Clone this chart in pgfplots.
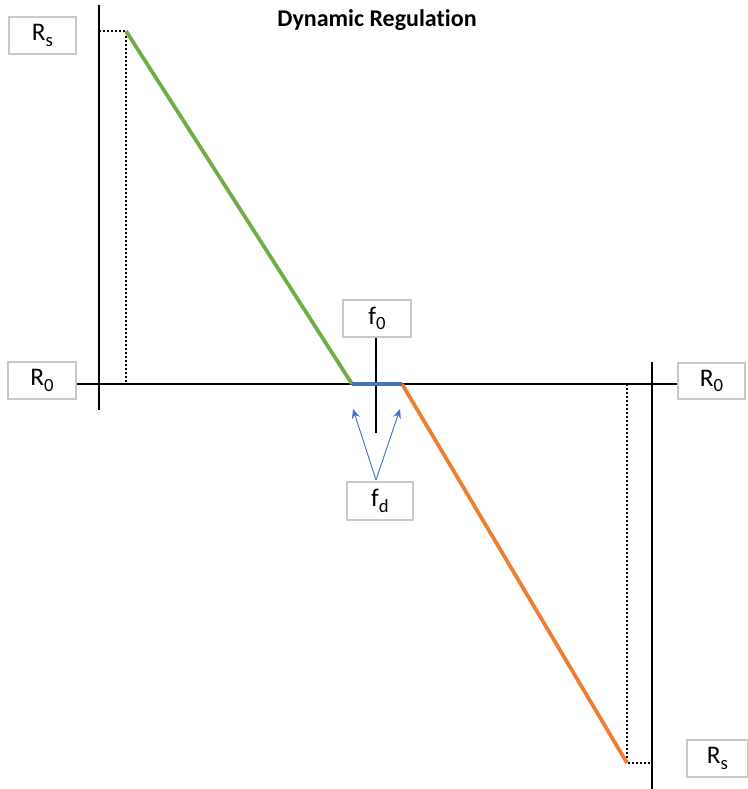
\documentclass[border=0pt]{standalone}
\usepackage{pgfplots}
\pgfplotsset{compat=1.18}
\usepackage{fontspec}
\setmainfont[Ligatures=NoCommon]{Carlito}
\usetikzlibrary{arrows.meta}
\definecolor{cgreen}{HTML}{70AD47}
\definecolor{corange}{HTML}{ED7D31}
\definecolor{cblue}{HTML}{4472C4}
\definecolor{cbox}{RGB}{200,200,200}
\newcommand{\lbl}[2]{#1\raisebox{-0.45ex}{\fontsize{14}{16}\selectfont #2}}
\begin{document}
\begin{tikzpicture}
\begin{axis}[
  scale only axis, width=561pt, height=591.75pt,
  xmin=0, xmax=748, ymin=0, ymax=789,
  hide axis, clip=false,
]
% axes of the diagram
\addplot[black, line width=1.9pt] coordinates {(99,784) (99,379)};
\addplot[black, line width=1.9pt] coordinates {(75,405) (678,405)};
\addplot[black, line width=1.9pt] coordinates {(652,427) (652,0)};
\addplot[black, line width=1.9pt] coordinates {(376,451) (376,356)};
% dotted guides
\addplot[black, line width=1.0pt, dash pattern=on 1.2pt off 1.8pt] coordinates {(99,758) (126,758) (126,405)};
\addplot[black, line width=1.0pt, dash pattern=on 1.2pt off 1.8pt] coordinates {(627,405) (627,26) (652,26)};
% regulation curve
\addplot[cgreen, line width=2.8pt] coordinates {(126,758) (352,405)};
\addplot[corange, line width=2.8pt] coordinates {(402,405) (627,26)};
\addplot[cblue, line width=2.8pt] coordinates {(352,405) (402,405)};
% arrows
\addplot[cblue, line width=0.7pt, -{Stealth[length=7pt,width=6pt]}] coordinates {(376,309) (353,380)};
\addplot[cblue, line width=0.7pt, -{Stealth[length=7pt,width=6pt]}] coordinates {(376,309) (400,380)};
% boxes
\draw[cbox, line width=0.8pt, fill=white] (axis cs:9,772) rectangle (axis cs:76,735);
\draw[cbox, line width=0.8pt, fill=white] (axis cs:8,427) rectangle (axis cs:76,390);
\draw[cbox, line width=0.8pt, fill=white] (axis cs:343,489) rectangle (axis cs:411,452);
\draw[cbox, line width=0.8pt, fill=white] (axis cs:347,307) rectangle (axis cs:413,269);
\draw[cbox, line width=0.8pt, fill=white] (axis cs:678,426) rectangle (axis cs:745,390);
\draw[cbox, line width=0.8pt, fill=white] (axis cs:687,49) rectangle (axis cs:747.5,12);
\node[font=\fontsize{19}{22}\selectfont] at (axis cs:42.5,753.5) {\lbl{R}{s}};
\node[font=\fontsize{19}{22}\selectfont] at (axis cs:42,408.5) {\lbl{R}{0}};
\node[font=\fontsize{19}{22}\selectfont] at (axis cs:377,470.5) {\lbl{f}{0}};
\node[font=\fontsize{19}{22}\selectfont] at (axis cs:380,288) {\lbl{f}{d}};
\node[font=\fontsize{19}{22}\selectfont] at (axis cs:711.5,408) {\lbl{R}{0}};
\node[font=\fontsize{19}{22}\selectfont] at (axis cs:717.5,30.5) {\lbl{R}{s}};
\node[font=\fontsize{18}{20}\selectfont\bfseries] at (axis cs:377,769) {Dynamic Regulation};
\end{axis}
\pgfresetboundingbox
\path (current axis.south west) rectangle (current axis.north east);
\end{tikzpicture}
\end{document}
